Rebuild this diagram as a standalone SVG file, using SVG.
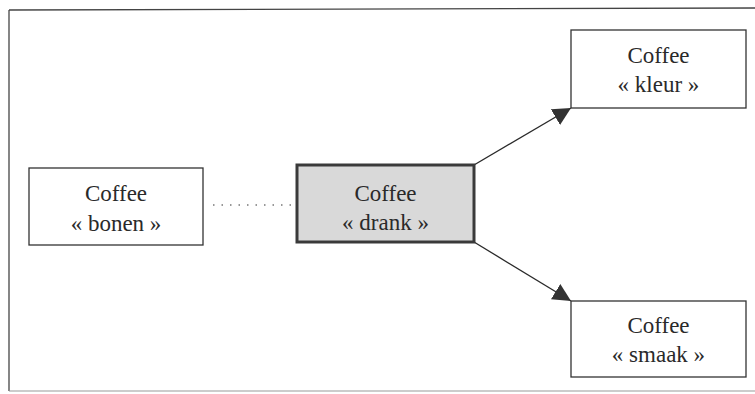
<svg xmlns="http://www.w3.org/2000/svg" width="755" height="394" viewBox="0 0 755 394">
<style>
.box{fill:#ffffff;stroke:#333333;stroke-width:1.3}
.main{fill:#d9d9d9;stroke:#3a3a3a;stroke-width:3}
.t{font-family:'Liberation Serif','DejaVu Serif',serif;font-size:23px;fill:#2a2a2a;text-anchor:middle}
.link{stroke:#2a2a2a;stroke-width:1.3;fill:none}
.dot{stroke:#777777;stroke-width:1.4;stroke-dasharray:1.5 7;fill:none}
.frame{stroke:#444444;stroke-width:1.3;fill:none}
</style>
<defs>
<marker id="ah" viewBox="0 0 10 10" refX="10" refY="5" markerWidth="18" markerHeight="18" markerUnits="userSpaceOnUse" orient="auto">
<path d="M0,0 L10,5 L0,10 z" fill="#333333"/>
</marker>
</defs>
<g id="frame">
<path class="frame" d="M9,10 L755,8"/>
<path class="frame" d="M9,10 L9,391"/>
<path d="M9,391 L755,391" stroke="#9a9a9a" stroke-width="1.2" fill="none"/>
</g>
<g id="connectors">
<path class="dot" d="M213,205 L294,205"/>
<path class="link" d="M474,165 L571,108" marker-end="url(#ah)"/>
<path class="link" d="M474,242 L571,301" marker-end="url(#ah)"/>
</g>
<g id="bonen">
<rect class="box" x="29" y="168" width="174" height="77"/>
<text class="t" x="116" y="201" font-family="Liberation Serif, serif">Coffee</text>
<text class="t" x="116" y="231" font-family="Liberation Serif, serif">« bonen »</text>
</g>
<g id="drank">
<rect class="main" x="297" y="165" width="177" height="77"/>
<text class="t" x="385.5" y="201" font-family="Liberation Serif, serif">Coffee</text>
<text class="t" x="385.5" y="230" font-family="Liberation Serif, serif">« drank »</text>
</g>
<g id="kleur">
<rect class="box" x="571" y="30" width="175" height="78"/>
<text class="t" x="658.5" y="63" font-family="Liberation Serif, serif">Coffee</text>
<text class="t" x="658.5" y="92" font-family="Liberation Serif, serif">« kleur »</text>
</g>
<g id="smaak">
<rect class="box" x="571" y="301" width="175" height="76"/>
<text class="t" x="658.5" y="333" font-family="Liberation Serif, serif">Coffee</text>
<text class="t" x="658.5" y="362" font-family="Liberation Serif, serif">« smaak »</text>
</g>
</svg>
